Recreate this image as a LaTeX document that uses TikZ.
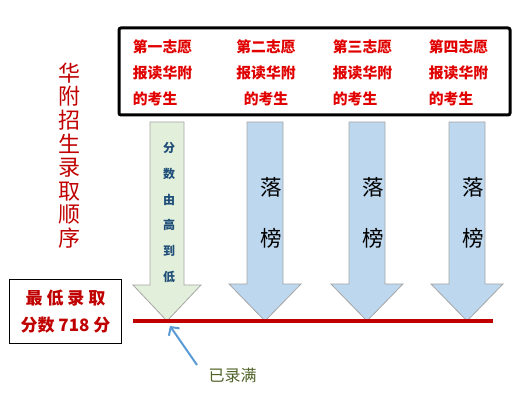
\documentclass[tikz,border=0pt]{standalone}
\usepackage{fontspec}
\setmainfont{Noto Sans CJK SC}
\usepackage{tikz}
\usetikzlibrary{arrows.meta}
\definecolor{headred}{HTML}{E00000}
\definecolor{darkred}{HTML}{C00000}
\definecolor{navy}{HTML}{1F4E79}
\definecolor{palegreen}{HTML}{E2EFDA}
\definecolor{paleblue}{HTML}{BDD7EE}
\definecolor{ptrblue}{HTML}{5B9BD5}
\definecolor{olive}{HTML}{4F6228}

\begin{document}
\begin{tikzpicture}[x=1pt,y=-1pt,
  arrowbox/.style={draw=gray!70, line width=0.8pt},
  head/.style={inner sep=0pt, text=headred, font=\fontsize{14.8}{26}\selectfont\bfseries}]
\useasboundingbox (0,0) rectangle (531,414);

\draw[line width=3pt, rounded corners=2pt] (119,28) rectangle (510,115);
\draw (162.5,73) node[head, align=left] (h1) {第一志愿\\报读华附\\的考生};
\draw (266,73) node[head, align=center] (h2) {第二志愿\\报读华附\\的考生};
\draw (362.5,73) node[head, align=left] (h3) {第三志愿\\报读华附\\的考生};
\draw (458.5,73) node[head, align=left] (h4) {第四志愿\\报读华附\\的考生};

\draw (69,155.5) node[inner sep=0pt, align=center, text=darkred, font=\fontsize{22}{23.6}\selectfont] (title) {华\\附\\招\\生\\录\\取\\顺\\序};

\draw[arrowbox, fill=palegreen] (150,122) -- (184,122) -- (184,285) -- (201,285) -- (167,321) -- (133,285) -- (150,285) -- cycle;
\draw (169,212.5) node[inner sep=0pt, align=center, text=navy, font=\fontsize{12}{25.8}\selectfont\bfseries] (order) {分\\数\\由\\高\\到\\低};

\foreach \x in {265,367,467} {
  \draw[arrowbox, fill=paleblue] (\x-18,122) -- (\x+18,122) -- (\x+18,284) -- (\x+36,284) -- (\x,321) -- (\x-36,284) -- (\x-18,284) -- cycle;
  \draw (\x+6,212.5) node[inner sep=0pt, align=center, font=\fontsize{21.5}{51}\selectfont] (lb\x) {落\\榜};
}

\draw[darkred, line width=4pt] (133,321) -- (493,321);

\draw (9,279) rectangle (121,343);
\draw (65.5,312) node[inner sep=0pt, align=center, text=darkred, font=\fontsize{17}{27}\selectfont\bfseries] (low) {最 低 录 取\\分数 718 分};

\draw (232.5,375) node[inner sep=0pt, text=olive, font=\fontsize{16}{18}\selectfont] (full) {已录满};
\coordinate (tail) at (197,365);
\coordinate (tip) at (170,326);
\draw[ptrblue, line width=2pt, -{Straight Barb[length=6pt,width=13pt]}] (tail) -- (tip);
\end{tikzpicture}
\end{document}
